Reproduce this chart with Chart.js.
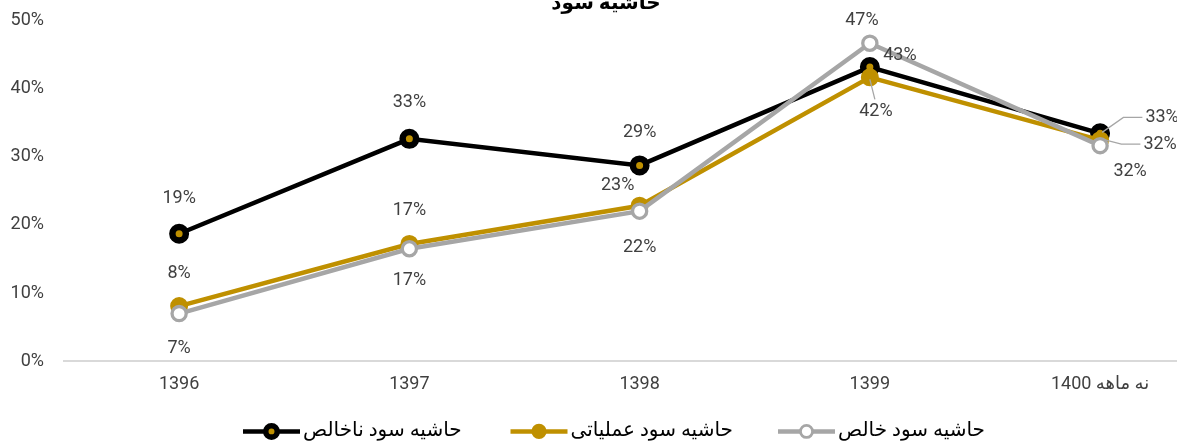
<!DOCTYPE html>
<html><head><meta charset="utf-8">
<script src="https://cdn.jsdelivr.net/npm/chart.js@4"></script>
<style>html,body{margin:0;padding:0;background:#fff;overflow:hidden}#wrap{width:1177px;height:441px;position:relative}</style>
</head><body><div id="wrap"><canvas id="c"></canvas></div>
<script>
// ---- data ----
const categories = ['1396', '1397', '1398', '1399', 'نه ماهه 1400'];
const seriesNames = ['حاشیه سود ناخالص', 'حاشیه سود عملیاتی', 'حاشیه سود خالص'];
const grossMargin = [18.7, 32.6, 28.7, 43.1, 33.4];
const operatingMargin = [8.1, 17.2, 22.8, 41.6, 32.4];
const netMargin = [7.0, 16.5, 22.0, 46.6, 31.6];
const yTicks = [0, 10, 20, 30, 40, 50];
const chartTitle = 'حاشیه سود';

// ---- styles ----
const FONT = "Roboto, 'DejaVu Sans', sans-serif";
const TEXT = '#404040';
const LEADER = '#a6a6a6';
// label offsets (dx, dy) relative to point, plus optional leader type
const labelPlacement = [
  [[0,-35],[0,-36],[0,-33],[30,-12],[62,-16,'elbow']],
  [[0,-33],[0,-33],[-22,-20],[6,34,'straight'],[60,4,'elbow']],
  [[0,35],[0,32],[0,36],[-8,-23],[30,26]]
];
const styles = [
  {color:'#000000', bg:'#bf9000', border:'#000000', r:6.75, bw:6.5, order:3},
  {color:'#bf9000', bg:'#bf9000', border:'#bf9000', r:7, bw:4, order:2},
  {color:'#a6a6a6', bg:'#ffffff', border:'#a6a6a6', r:7.1, bw:3.3, order:1}
];
const seriesValues = [grossMargin, operatingMargin, netMargin];

const datasets = seriesValues.map((vals, d) => ({
  label: seriesNames[d],
  data: vals.map((v, i) => ({x: i, y: v})),
  borderColor: styles[d].color,
  borderWidth: 4.5,
  pointRadius: styles[d].r,
  pointHoverRadius: styles[d].r,
  pointBorderWidth: styles[d].bw,
  pointBackgroundColor: styles[d].bg,
  pointBorderColor: styles[d].border,
  order: styles[d].order,
  tension: 0,
  fill: false
}));

const labelPlugin = {
  id: 'valueLabels',
  afterDatasetsDraw(chart) {
    const ctx = chart.ctx;
    ctx.save();
    ctx.font = '18px ' + FONT;
    ctx.textAlign = 'center';
    ctx.textBaseline = 'middle';
    chart.data.datasets.forEach((ds, d) => {
      const meta = chart.getDatasetMeta(d);
      meta.data.forEach((pt, i) => {
        const txt = Math.round(ds.data[i].y) + '%';
        const pl = labelPlacement[d][i];
        const lx = pt.x + pl[0], ly = pt.y + pl[1];
        const w = ctx.measureText(txt).width;
        if (pl[2] === 'elbow') {
          ctx.strokeStyle = LEADER; ctx.lineWidth = 1.3;
          ctx.beginPath();
          ctx.moveTo(pt.x + 2, pt.y - 1);
          ctx.lineTo(lx - w/2 - 22, ly);
          ctx.lineTo(lx - w/2 - 3, ly);
          ctx.stroke();
        } else if (pl[2] === 'straight') {
          ctx.strokeStyle = LEADER; ctx.lineWidth = 1.3;
          ctx.beginPath();
          ctx.moveTo(pt.x, pt.y + 2);
          ctx.lineTo(lx - 1, ly - 12);
          ctx.stroke();
        }
        ctx.fillStyle = TEXT;
        ctx.fillText(txt, lx, ly);
      });
    });
    ctx.restore();
  }
};

const decorPlugin = {
  id: 'decor',
  afterDraw(chart) {
    const ctx = chart.ctx;
    ctx.save();
    // title
    ctx.font = 'bold 20px ' + FONT;
    ctx.fillStyle = '#000';
    ctx.textAlign = 'center';
    ctx.textBaseline = 'alphabetic';
    ctx.fillText(chartTitle, 606, 9);
    // legend
    const slot = 267.5, start = 243, ly = chart.chartArea.bottom + 70;
    ctx.font = '20px ' + FONT;
    ctx.textBaseline = 'middle';
    ctx.textAlign = 'left';
    chart.data.datasets.forEach((ds, d) => {
      const sx = start + slot * d;
      const s = styles[d];
      ctx.strokeStyle = s.color; ctx.lineWidth = 4.5;
      ctx.beginPath(); ctx.moveTo(sx, ly); ctx.lineTo(sx + 57, ly); ctx.stroke();
      ctx.beginPath(); ctx.arc(sx + 28.5, ly, s.r * 0.85, 0, Math.PI * 2);
      ctx.fillStyle = s.bg; ctx.fill();
      ctx.lineWidth = s.bw * 0.85; ctx.strokeStyle = s.border; ctx.stroke();
      ctx.fillStyle = '#000';
      ctx.fillText(ds.label, sx + 60, ly);
    });
    ctx.restore();
  }
};

new Chart(document.getElementById('c'), {
  type: 'line',
  data: {datasets},
  options: {
    responsive: true,
    maintainAspectRatio: false,
    animation: false,
    layout: {autoPadding: false, padding: {top: 20, bottom: 34, left: 0, right: 0}},
    plugins: {legend: {display: false}, title: {display: false}, tooltip: {enabled: false}},
    scales: {
      x: {
        type: 'linear',
        min: -0.5,
        max: 4.334,
        afterBuildTicks: (s) => { s.ticks = categories.map((_, i) => ({value: i})); },
        afterFit: (s) => { s.paddingLeft = 0; s.paddingRight = 0; },
        ticks: {
          callback: (v) => categories[v] !== undefined ? categories[v] : '',
          font: {size: 18, family: FONT}, color: TEXT, padding: 12, maxRotation: 0, autoSkip: false
        },
        grid: {display: false, drawTicks: false},
        border: {display: true, color: '#d9d9d9', width: 2}
      },
      y: {
        min: 0, max: 50,
        afterBuildTicks: (s) => { s.ticks = yTicks.map(v => ({value: v})); },
        afterFit: (s) => { s.width = 64; s.paddingTop = 0; s.paddingBottom = 0; },
        ticks: {callback: (v) => v + '%', font: {size: 18, family: FONT}, color: TEXT, padding: 20},
        grid: {display: false, drawTicks: false},
        border: {display: false}
      }
    }
  },
  plugins: [labelPlugin, decorPlugin]
});
</script>
</body></html>
